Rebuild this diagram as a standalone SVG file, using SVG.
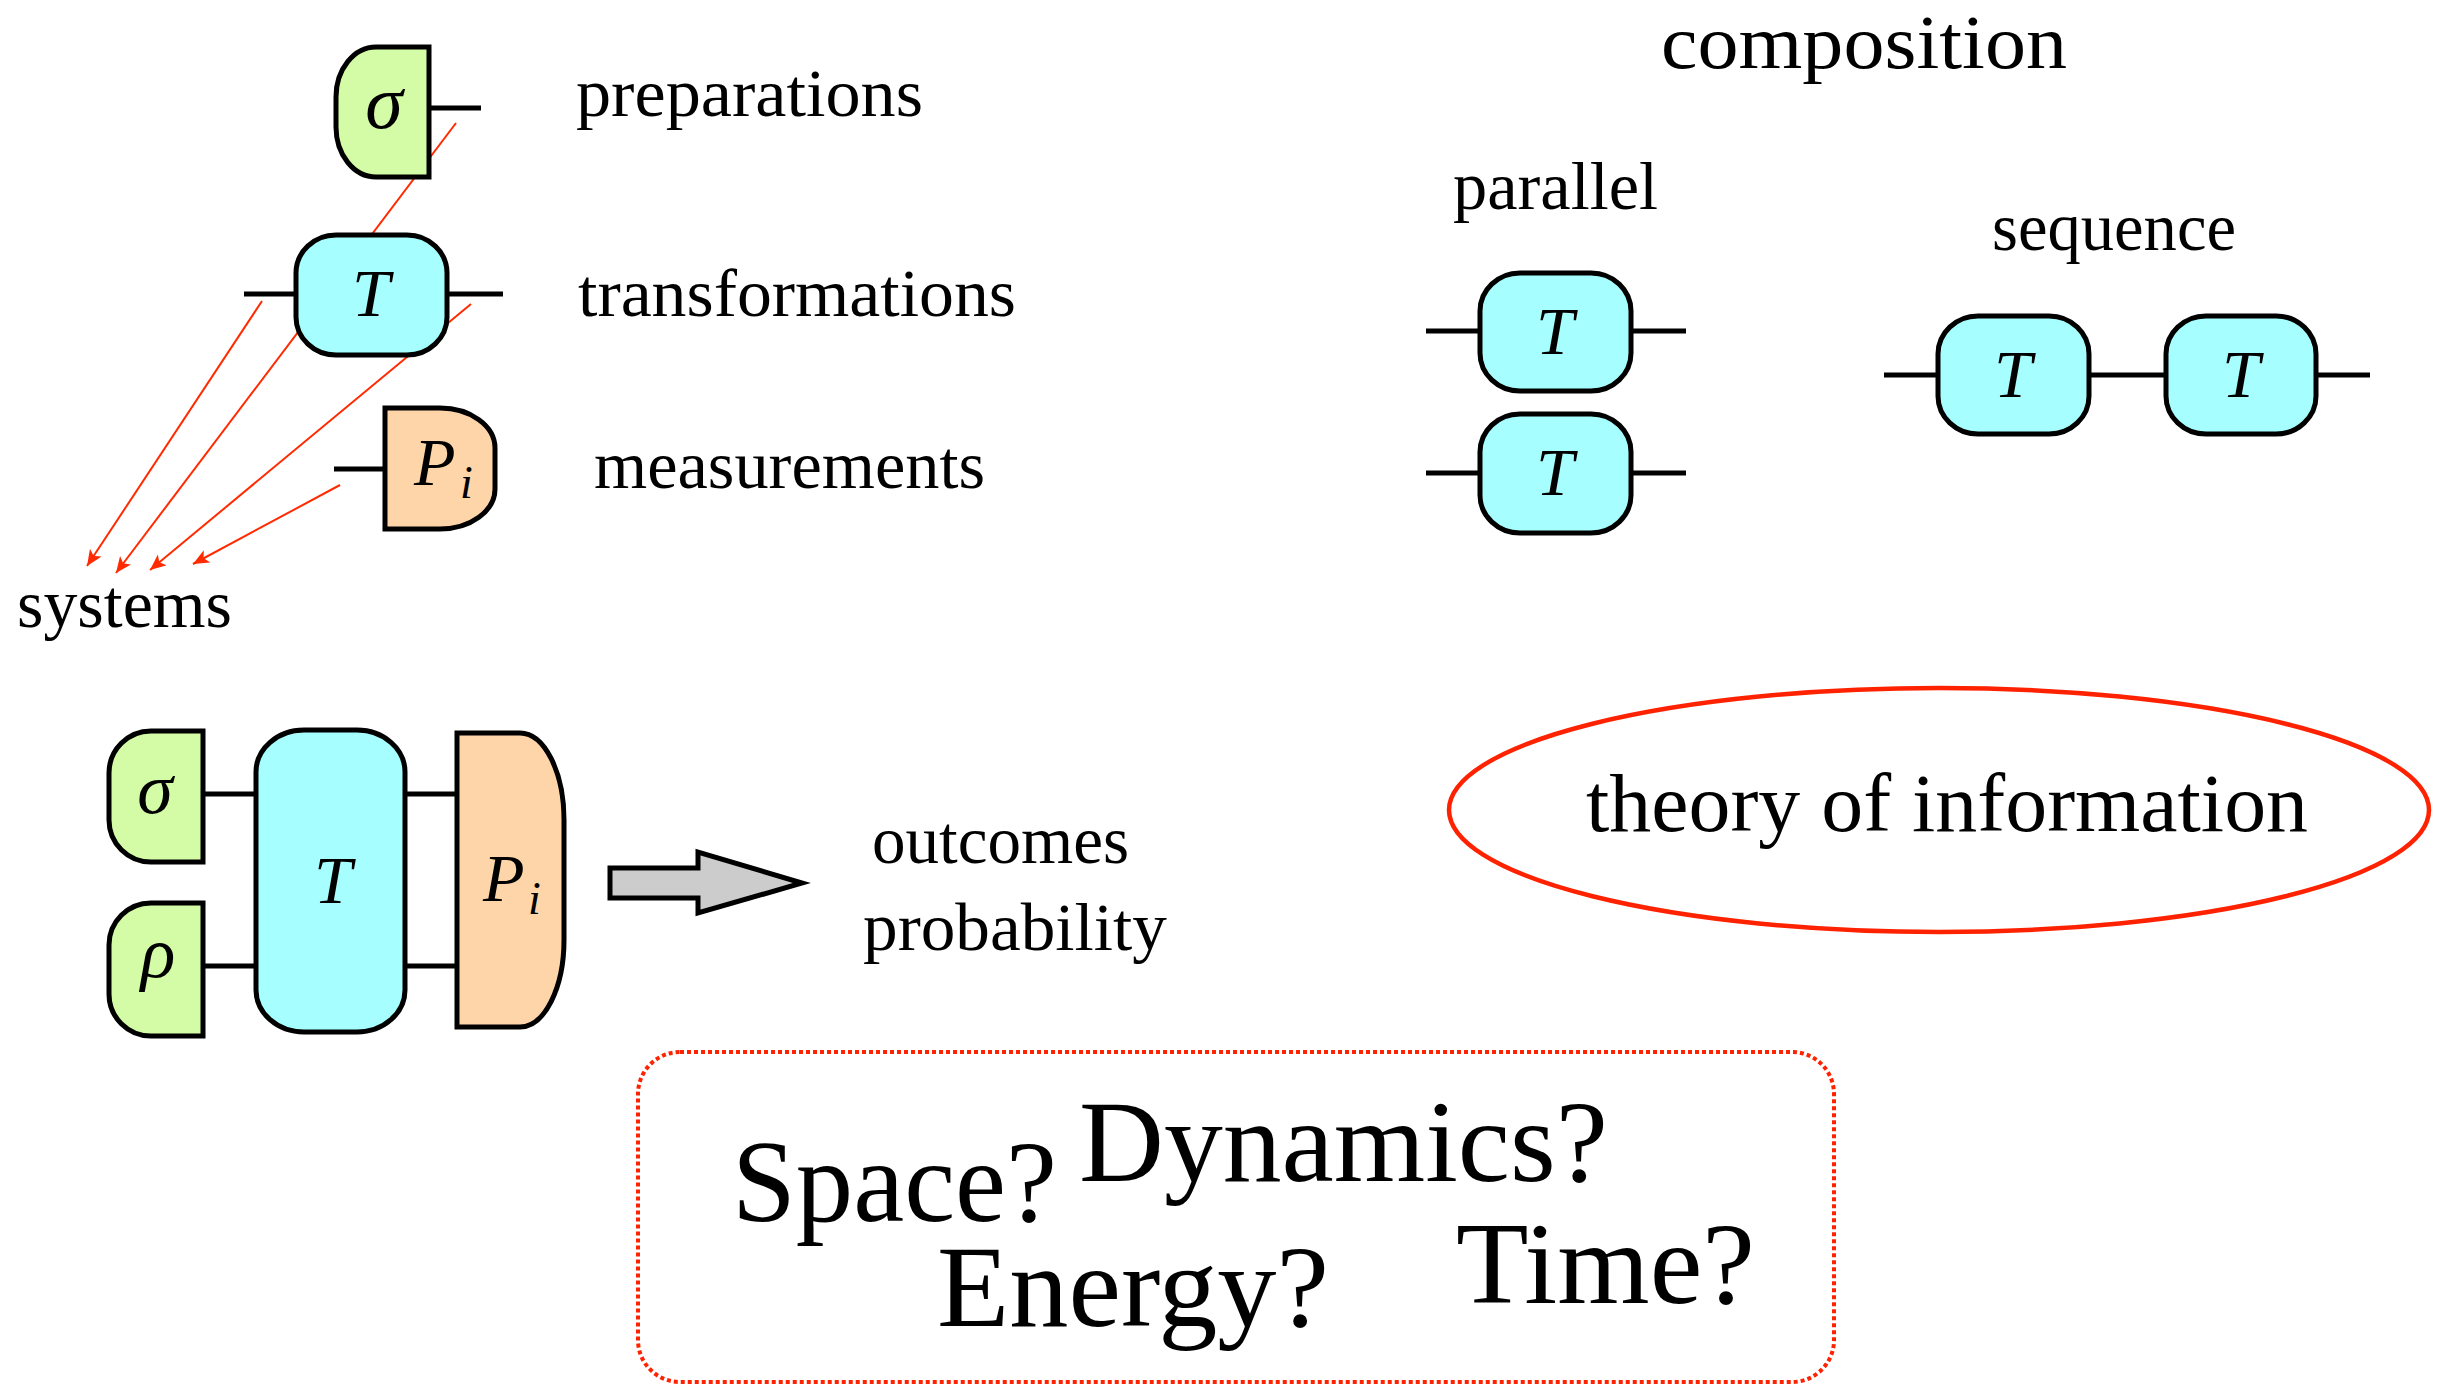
<svg xmlns="http://www.w3.org/2000/svg" width="2438" height="1386" viewBox="0 0 2438 1386">
<style>
.lbl{font-family:"Liberation Serif",serif;fill:#000}
.m{font-family:"Liberation Serif",serif;font-style:italic;fill:#000}
.prep{fill:#d4fba6;stroke:#000;stroke-width:5}
.tr{fill:#a6fefe;stroke:#000;stroke-width:5}
.meas{fill:#fed5a8;stroke:#000;stroke-width:5}
.wire{stroke:#000;stroke-width:5;fill:none}
.red{stroke:#ff2a00;stroke-width:2;fill:none}
</style>
<defs>
<marker id="ah" markerUnits="userSpaceOnUse" markerWidth="20" markerHeight="16" refX="16" refY="7" orient="auto">
<path d="M0,0 L16,7 L0,14 L4,7 Z" fill="#ff2a00"/>
</marker>
</defs>
<rect width="2438" height="1386" fill="#fff"/>

<g id="connectors">
<line class="red" x1="262" y1="301" x2="87" y2="566" marker-end="url(#ah)"/>
<line class="red" x1="456" y1="123" x2="116" y2="573" marker-end="url(#ah)"/>
<line class="red" x1="471" y1="304" x2="150" y2="570" marker-end="url(#ah)"/>
<line class="red" x1="340" y1="485" x2="193" y2="564" marker-end="url(#ah)"/>
</g>

<g id="prep-top">
<path class="prep" d="M429,47 L376,47 A40,50 0 0 0 336,97 L336,127 A40,50 0 0 0 376,177 L429,177 Z"/>
<line class="wire" x1="429" y1="108" x2="481" y2="108"/>
<text class="m" x="384" y="128" font-size="76" text-anchor="middle">σ</text>
</g>
<g id="trans-top">
<line class="wire" x1="244" y1="294" x2="296" y2="294"/>
<line class="wire" x1="447" y1="294" x2="503" y2="294"/>
<rect class="tr" x="296" y="235" width="151" height="120" rx="40" ry="38"/>
<text class="m" x="371" y="316" font-size="68" text-anchor="middle">T</text>
</g>
<g id="meas-top">
<line class="wire" x1="334" y1="469" x2="385" y2="469"/>
<path class="meas" d="M385,408 L440,408 A55,40 0 0 1 495,448 L495,489 A55,40 0 0 1 440,529 L385,529 Z"/>
<text class="m" x="414" y="485" font-size="68">P</text>
<text class="m" x="460" y="498" font-size="46">i</text>
</g>

<g id="labels-top">
<text class="lbl" x="576" y="116" font-size="68" textLength="347" lengthAdjust="spacingAndGlyphs">preparations</text>
<text class="lbl" x="578" y="316" font-size="68" textLength="438" lengthAdjust="spacingAndGlyphs">transformations</text>
<text class="lbl" x="594" y="488" font-size="68" textLength="391" lengthAdjust="spacingAndGlyphs">measurements</text>
<text class="lbl" x="17" y="627" font-size="68" textLength="215" lengthAdjust="spacingAndGlyphs">systems</text>
</g>

<g id="circuit">
<line class="wire" x1="203" y1="794" x2="256" y2="794"/>
<line class="wire" x1="203" y1="966" x2="256" y2="966"/>
<line class="wire" x1="405" y1="794" x2="457" y2="794"/>
<line class="wire" x1="405" y1="966" x2="457" y2="966"/>
<path class="prep" d="M203,731 L151,731 A42,42 0 0 0 109,773 L109,820 A42,42 0 0 0 151,862 L203,862 Z"/>
<path class="prep" d="M203,903 L151,903 A42,42 0 0 0 109,945 L109,994 A42,42 0 0 0 151,1036 L203,1036 Z"/>
<rect class="tr" x="256" y="730" width="149" height="302" rx="48" ry="42"/>
<path class="meas" d="M457,733 L520,733 A44,87 0 0 1 564,820 L564,940 A44,87 0 0 1 520,1027 L457,1027 Z"/>
<text class="m" x="155" y="813" font-size="72" text-anchor="middle">σ</text>
<text class="m" x="158" y="977" font-size="72" text-anchor="middle">ρ</text>
<text class="m" x="333" y="903" font-size="68" text-anchor="middle">T</text>
<text class="m" x="483" y="901" font-size="68">P</text>
<text class="m" x="528" y="914" font-size="46">i</text>
</g>

<g id="big-arrow">
<polygon points="610,868 698,868 698,852 802,883 698,913 698,898 610,898" fill="#cccccc" stroke="#000" stroke-width="5" stroke-linejoin="miter"/>
</g>
<g id="outcomes">
<text class="lbl" x="872" y="863" font-size="68" textLength="257" lengthAdjust="spacingAndGlyphs">outcomes</text>
<text class="lbl" x="863" y="950" font-size="68" textLength="304" lengthAdjust="spacingAndGlyphs">probability</text>
</g>

<g id="composition">
<text class="lbl" x="1661" y="68" font-size="76" textLength="406" lengthAdjust="spacingAndGlyphs">composition</text>
<text class="lbl" x="1453" y="209" font-size="68" textLength="205" lengthAdjust="spacingAndGlyphs">parallel</text>
<text class="lbl" x="1992" y="250" font-size="68" textLength="244" lengthAdjust="spacingAndGlyphs">sequence</text>
</g>

<g id="parallel-1">
<line class="wire" x1="1426" y1="331" x2="1480" y2="331"/>
<line class="wire" x1="1631" y1="331" x2="1686" y2="331"/>
<rect class="tr" x="1480" y="273" width="151" height="118" rx="40" ry="38"/>
<text class="m" x="1555" y="354" font-size="68" text-anchor="middle">T</text>
</g>
<g id="parallel-2">
<line class="wire" x1="1426" y1="473" x2="1480" y2="473"/>
<line class="wire" x1="1631" y1="473" x2="1686" y2="473"/>
<rect class="tr" x="1480" y="414" width="151" height="119" rx="40" ry="38"/>
<text class="m" x="1555" y="495" font-size="68" text-anchor="middle">T</text>
</g>
<g id="sequence-wires">
<line class="wire" x1="1884" y1="375" x2="1938" y2="375"/>
<line class="wire" x1="2089" y1="375" x2="2167" y2="375"/>
<line class="wire" x1="2316" y1="375" x2="2370" y2="375"/>
</g>
<g id="sequence-1">
<rect class="tr" x="1938" y="316" width="151" height="118" rx="40" ry="38"/>
<text class="m" x="2013" y="397" font-size="68" text-anchor="middle">T</text>
</g>
<g id="sequence-2">
<rect class="tr" x="2166" y="316" width="150" height="118" rx="40" ry="38"/>
<text class="m" x="2241" y="397" font-size="68" text-anchor="middle">T</text>
</g>

<g id="theory">
<ellipse cx="1939" cy="810" rx="490" ry="122" fill="none" stroke="#ff2200" stroke-width="4.5"/>
<text class="lbl" x="1586" y="831" font-size="82" textLength="722" lengthAdjust="spacingAndGlyphs">theory of information</text>
</g>

<g id="questions">
<rect x="638" y="1052" width="1196" height="330" rx="42" ry="42" fill="none" stroke="#ff2200" stroke-width="4" stroke-dasharray="4 3"/>
<text class="lbl" x="732" y="1221" font-size="116" textLength="325" lengthAdjust="spacingAndGlyphs">Space?</text>
<text class="lbl" x="1079" y="1181" font-size="116" textLength="529" lengthAdjust="spacingAndGlyphs">Dynamics?</text>
<text class="lbl" x="937" y="1326" font-size="116" textLength="392" lengthAdjust="spacingAndGlyphs">Energy?</text>
<text class="lbl" x="1456" y="1303" font-size="116" textLength="299" lengthAdjust="spacingAndGlyphs">Time?</text>
</g>
</svg>
